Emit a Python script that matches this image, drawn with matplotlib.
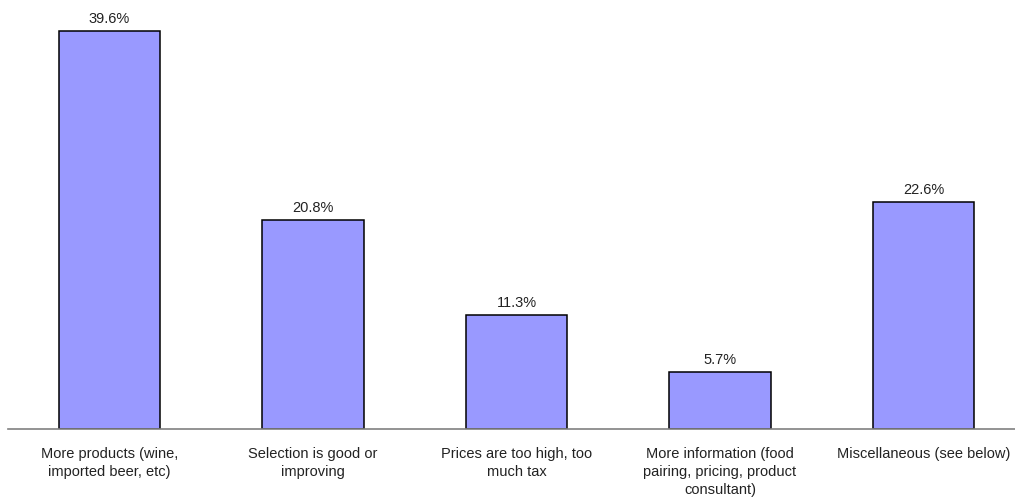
import numpy as np
import matplotlib.pyplot as plt

plt.rcParams['font.family'] = ['Liberation Sans', 'DejaVu Sans']

categories = ['More products (wine,\nimported beer, etc)',
              'Selection is good or\nimproving',
              'Prices are too high, too\nmuch tax',
              'More information (food\npairing, pricing, product\nconsultant)',
              'Miscellaneous (see below)']
values = [39.6, 20.8, 11.3, 5.7, 22.6]

fig = plt.figure(figsize=(10.15, 4.98), dpi=100)
ax = fig.add_axes([7.75 / 1015, 69 / 498, 1 - 7.75 / 1015, 42 * 10.05 / 498])

x = np.arange(len(categories))
ax.bar(x, values, width=0.5, color='#9999FF', edgecolor='black', linewidth=1.1, zorder=2)

for xi, v in zip(x, values):
    ax.text(xi, v + 0.5, '%.1f%%' % v, ha='center', va='bottom', fontsize=10.5, color='#222222')

ax.set_xlim(-0.5, 4.45)
ax.set_ylim(0, 42)
ax.set_xticks(x)
ax.set_xticklabels(categories, fontsize=10.5, linespacing=1.35, color='#222222')
ax.tick_params(axis='x', length=0, pad=13)
ax.set_yticks([])
for s in ['top', 'right', 'left']:
    ax.spines[s].set_visible(False)
ax.spines['bottom'].set_color('#808080')
ax.spines['bottom'].set_linewidth(1.2)

fig.savefig('out.png', dpi=100)
